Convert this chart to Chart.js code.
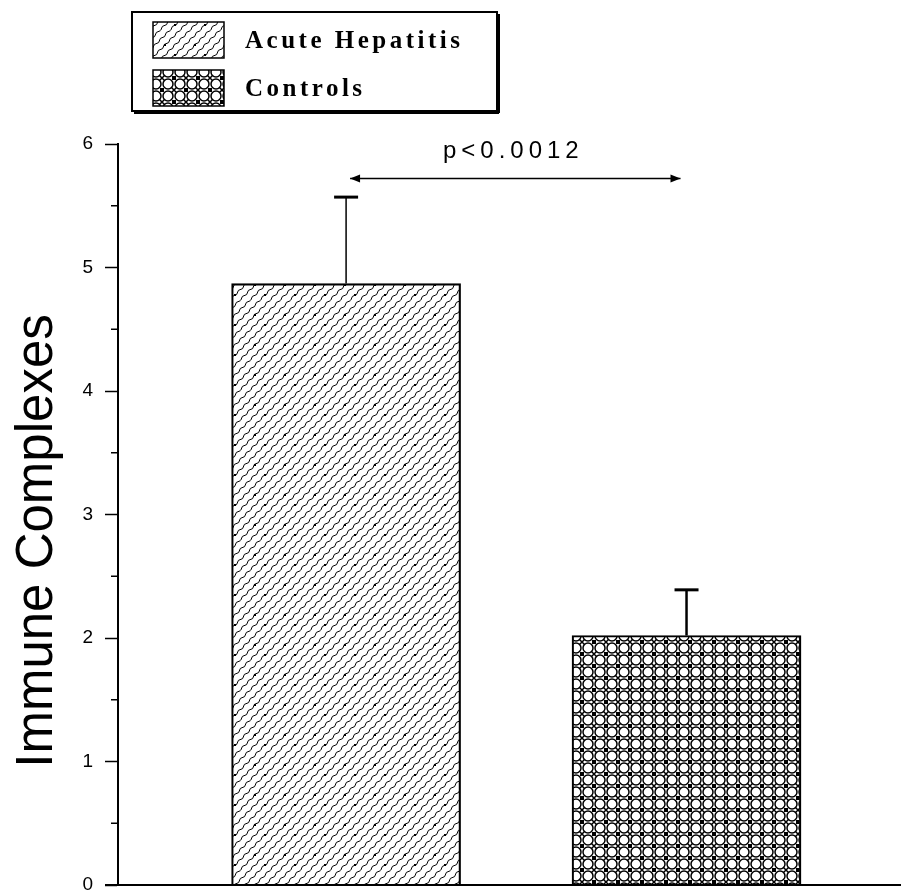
<!DOCTYPE html>
<html>
<head>
<meta charset="utf-8">
<script src="https://cdn.jsdelivr.net/npm/chart.js@4"></script>
<style>
html, body { margin: 0; padding: 0; background: #fff; }
</style>
</head>
<body>
<canvas id="barras" width="901" height="894"></canvas>
<script>
//Datos de la grafica
const categorias = ['Acute Hepatitis', 'Controls'];
const medias = [4.87, 2.02];
const errores = [0.70, 0.37];
const marcasY = [0, 1, 2, 3, 4, 5, 6];
const tituloY = 'Immune Complexes';
const textoP = 'p<0.0012';
const alturaFlecha = 5.72;

//Tramas de relleno
function tramaDiagonal() {
    const c = document.createElement('canvas');
    c.width = 30; c.height = 30;
    const g = c.getContext('2d');
    g.strokeStyle = '#000';
    g.lineWidth = 1;
    for (let k = -30; k <= 60; k += 10) {
        g.beginPath();
        for (let t = 0; t <= 30; t += 3) {
            const w = (t / 3) % 2 === 0 ? 0.6 : -0.6;
            const px = k + t + w, py = 30 - t + w;
            if (t === 0) g.moveTo(px, py); else g.lineTo(px, py);
        }
        g.stroke();
    }
    g.fillStyle = '#000';
    g.fillRect(14, 14, 2, 2);
    g.fillRect(24, 24, 2, 2);
    return g.createPattern(c, 'repeat');
}

function tramaAnillos() {
    const c = document.createElement('canvas');
    c.width = 24; c.height = 24;
    const g = c.getContext('2d');
    g.strokeStyle = '#000';
    g.fillStyle = '#000';
    g.lineWidth = 1.5;
    for (const dx of [-24, 0, 24]) {
        for (const dy of [-24, 0, 24]) {
            for (const [cx, cy] of [[0, 0], [12, 0], [0, 12], [12, 12]]) {
                g.beginPath();
                g.arc(cx + dx, cy + dy, 5, 0, Math.PI * 2);
                g.stroke();
            }
            for (const [cx, cy] of [[18, 6], [6, 18]]) {
                g.beginPath();
                g.moveTo(cx + dx - 2.5, cy + dy - 2.5); g.lineTo(cx + dx + 2.5, cy + dy + 2.5);
                g.moveTo(cx + dx + 2.5, cy + dy - 2.5); g.lineTo(cx + dx - 2.5, cy + dy + 2.5);
                g.stroke();
            }
            g.fillRect(4 + dx, 4 + dy, 4, 4);
            g.fillRect(16 + dx, 16 + dy, 4, 4);
        }
    }
    return g.createPattern(c, 'repeat');
}

const tramas = [tramaDiagonal(), tramaAnillos()];

function linea(ctx, x1, y1, x2, y2) {
    ctx.beginPath();
    ctx.moveTo(x1, y1);
    ctx.lineTo(x2, y2);
    ctx.stroke();
}

//Extras: barras de error, flecha, leyenda, titulo
const extras = {
    id: 'extras',
    afterDraw(chart) {
        const ctx = chart.ctx;
        const y = chart.scales.y;
        const meta = chart.getDatasetMeta(0);
        const y0 = y.getPixelForValue(0);
        ctx.save();
        ctx.strokeStyle = '#000';
        ctx.fillStyle = '#000';

        // eje x
        ctx.lineWidth = 2;
        linea(ctx, y.right - 13, y0, chart.width, y0);

        // marcas menores
        ctx.lineWidth = 1.5;
        for (let i = 0; i < marcasY.length - 1; i++) {
            const py = y.getPixelForValue((marcasY[i] + marcasY[i + 1]) / 2);
            linea(ctx, y.right - 7, py, y.right, py);
        }

        // barras de error
        meta.data.forEach((bar, i) => {
            const top = y.getPixelForValue(medias[i] + errores[i]);
            ctx.lineWidth = i === 0 ? 1.5 : 2.5;
            linea(ctx, bar.x, bar.y, bar.x, top);
            ctx.lineWidth = 3;
            linea(ctx, bar.x - 12, top, bar.x + 12, top);
        });

        // flecha doble con p
        const ya = y.getPixelForValue(alturaFlecha);
        const xa = meta.data[0].x + 4;
        const xb = meta.data[1].x - 6;
        ctx.lineWidth = 1.5;
        linea(ctx, xa, ya, xb, ya);
        ctx.beginPath();
        ctx.moveTo(xa, ya); ctx.lineTo(xa + 10, ya - 4); ctx.lineTo(xa + 10, ya + 4); ctx.closePath();
        ctx.fill();
        ctx.beginPath();
        ctx.moveTo(xb, ya); ctx.lineTo(xb - 10, ya - 4); ctx.lineTo(xb - 10, ya + 4); ctx.closePath();
        ctx.fill();
        ctx.font = '24px Arial';
        ctx.letterSpacing = '5px';
        ctx.textAlign = 'center';
        ctx.textBaseline = 'alphabetic';
        ctx.fillText(textoP, (xa + xb) / 2 - 2, ya - 21);

        // leyenda
        ctx.letterSpacing = '0px';
        ctx.lineWidth = 2;
        ctx.strokeRect(132, 12, 365, 99);
        ctx.lineWidth = 2;
        linea(ctx, 499, 14, 499, 113);
        linea(ctx, 134, 113, 499, 113);
        ctx.font = 'bold 25px "Liberation Serif"';
        ctx.letterSpacing = '3.5px';
        ctx.textAlign = 'left';
        ctx.textBaseline = 'middle';
        categorias.forEach((nombre, i) => {
            const top = 22 + i * 48;
            ctx.fillStyle = tramas[i];
            ctx.fillRect(153, top, 71, 36);
            ctx.lineWidth = 1.5;
            ctx.strokeRect(153, top, 71, 36);
            ctx.fillStyle = '#000';
            ctx.fillText(nombre, 245, top + 20);
        });

        // titulo eje y
        ctx.letterSpacing = '0px';
        ctx.translate(52, 541);
        ctx.rotate(-Math.PI / 2);
        ctx.font = '51px Arial';
        ctx.textAlign = 'center';
        ctx.textBaseline = 'alphabetic';
        ctx.fillText(tituloY, 0, 0);
        ctx.restore();
    }
};

//Grafica de barras
const barras = document.getElementById('barras');

new Chart(barras, {
    type: 'bar',
    data: {
        datasets: [{
            label: tituloY,
            data: medias.map((v, i) => ({ x: i + 1, y: v })),
            backgroundColor: tramas,
            borderColor: '#000',
            borderWidth: 1.5,
            barThickness: 229
        }]
    },
    options: {
        responsive: false,
        animation: false,
        layout: {
            padding: { top: 144, right: 0, bottom: 9, left: 0 }
        },
        plugins: {
            legend: { display: false },
            tooltip: { enabled: false }
        },
        scales: {
            x: {
                type: 'linear',
                display: false,
                offset: false,
                min: 0.33,
                max: 2.63
            },
            y: {
                min: 0,
                max: 6,
                afterFit(s) {
                    s.width = 118;
                    s.paddingTop = 0;
                    s.paddingBottom = 0;
                },
                border: { color: '#000', width: 2 },
                grid: {
                    drawOnChartArea: false,
                    tickLength: 13,
                    tickWidth: 1.5,
                    tickColor: c => marcasY.includes(c.tick.value) ? '#000' : 'rgba(0,0,0,0)'
                },
                ticks: {
                    stepSize: 0.5,
                    padding: 12,
                    color: '#000',
                    font: { family: 'Arial', size: 19 },
                    callback: v => marcasY.includes(v) ? String(v) : ''
                }
            }
        }
    },
    plugins: [extras]
});
</script>
</body>
</html>
